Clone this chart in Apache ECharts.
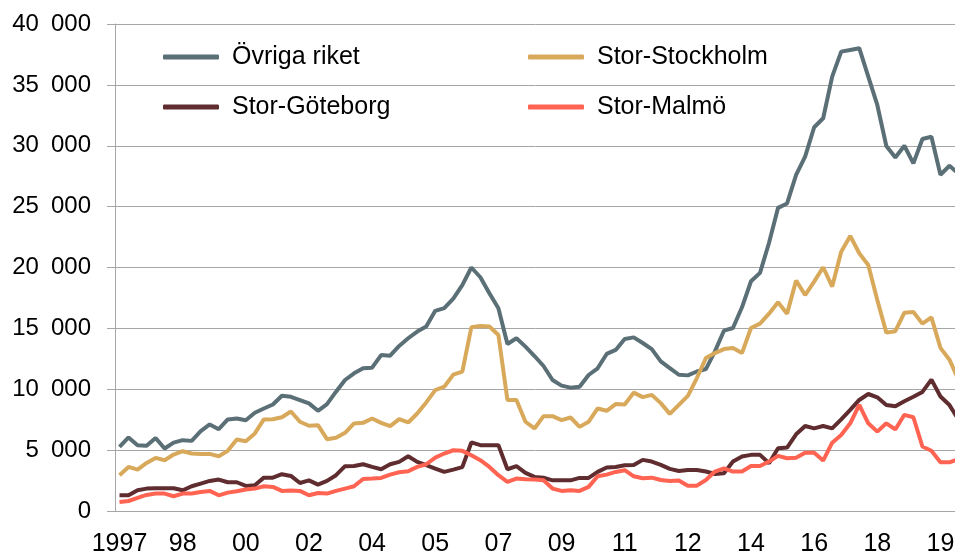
<!DOCTYPE html>
<html>
<head>
<meta charset="utf-8">
<script src="https://cdn.jsdelivr.net/npm/echarts@6/dist/echarts.min.js"></script>
<style>
  html, body { margin: 0; padding: 0; background: #fff; }
  #chart { width: 955px; height: 553px; }
</style>
</head>
<body>
<div id="chart"></div>
<script>
  // quarters 1997K1 .. 2020K2
  const years = [1997, 1998, 1999, 2000, 2001, 2002, 2003, 2004, 2005, 2006, 2007, 2008,
                 2009, 2010, 2011, 2012, 2013, 2014, 2015, 2016, 2017, 2018, 2019, 2020]
  const categories = []
  years.forEach(y => {
    for (let q = 1; q <= 4; q++) categories.push(y + 'K' + q)
  })
  categories.length = 94

  const ovrigaRiket = [
    5270, 6040, 5400, 5350, 6000, 5130, 5620, 5820, 5760, 6560,
    7110, 6720, 7520, 7600, 7460, 8070, 8420, 8750, 9470, 9380,
    9110, 8840, 8230, 8780, 9800, 10760, 11310, 11720, 11770, 12810,
    12760, 13560, 14190, 14740, 15150, 16440, 16660, 17450, 18550, 20000,
    19200, 17890, 16660, 13720, 14190, 13500, 12730, 11910, 10760, 10300,
    10130, 10210, 11170, 11720, 12900, 13230, 14130, 14260, 13800, 13300,
    12290, 11740, 11190, 11140, 11460, 11660, 13110, 14810, 15030, 16730,
    18870, 19560, 22030, 24900, 25260, 27600, 29110, 31520, 32260, 35680,
    37730, 37870, 38010, 35680, 33350, 29980, 29040, 30000, 28550, 30550,
    30740, 27620, 28360, 27700
  ]
  const storStockholm = [
    2940, 3620, 3400, 3950, 4360, 4170, 4640, 4910, 4720, 4690,
    4690, 4500, 4940, 5870, 5730, 6370, 7520, 7540, 7700, 8170,
    7330, 7000, 7050, 5900, 6010, 6420, 7190, 7240, 7600, 7240,
    6970, 7550, 7270, 8010, 8920, 9930, 10210, 11200, 11440, 15090,
    15200, 15150, 14460, 9110, 9110, 7330, 6780, 7790, 7790, 7460,
    7680, 6910, 7330, 8420, 8230, 8780, 8750, 9720, 9350, 9540,
    8860, 7980, 8720, 9460, 10920, 12560, 12970, 13300, 13380, 12970,
    15030, 15390, 16210, 17140, 16210, 18930, 17740, 18840, 20020, 18430,
    21300, 22590, 21170, 20210, 17330, 14650, 14770, 16290, 16340, 15390,
    15900, 13400, 12430, 10760
  ]
  const storGoteborg = [
    1290, 1290, 1700, 1840, 1870, 1870, 1870, 1700, 2030, 2250,
    2470, 2580, 2360, 2360, 2060, 2110, 2740, 2740, 3020, 2880,
    2300, 2520, 2170, 2470, 2940, 3680, 3700, 3840, 3620, 3430,
    3840, 4030, 4500, 4030, 3760, 3490, 3210, 3400, 3600, 5630,
    5410, 5410, 5410, 3430, 3680, 3130, 2800, 2740, 2520, 2520,
    2520, 2720, 2720, 3210, 3570, 3620, 3760, 3780, 4200, 4060,
    3790, 3460, 3290, 3370, 3370, 3240, 3040, 3100, 4060, 4470,
    4610, 4610, 3920, 5160, 5210, 6300, 6980, 6790, 6980, 6790,
    7530, 8300, 9120, 9610, 9340, 8710, 8600, 9020, 9380, 9780,
    10790, 9400, 8700, 7500
  ]
  const storMalmo = [
    740, 820, 1070, 1320, 1430, 1430, 1210, 1430, 1430, 1560,
    1650, 1290, 1510, 1620, 1760, 1840, 2030, 1980, 1650, 1680,
    1650, 1290, 1480, 1430, 1650, 1840, 2030, 2630, 2660, 2720,
    2990, 3180, 3270, 3620, 3840, 4390, 4720, 4990, 4940, 4580,
    4170, 3620, 2940, 2390, 2660, 2610, 2580, 2520, 1840, 1650,
    1700, 1650, 1980, 2850, 2990, 3210, 3350, 2850, 2690, 2740,
    2550, 2470, 2500, 2080, 2080, 2550, 3240, 3510, 3240, 3240,
    3700, 3700, 4060, 4530, 4330, 4380, 4790, 4790, 4140, 5610,
    6240, 7200, 8710, 7200, 6520, 7200, 6700, 7900, 7700, 5300,
    4950, 4000, 4000, 4260
  ]

  const font = 'Liberation Sans, Arial, sans-serif'
  const gridGray = '#a6a6a6'

  const chart = echarts.init(document.getElementById('chart'))

  let legendBase = {
    orient: 'vertical',
    top: 43,
    padding: 0,
    itemWidth: 56,
    itemHeight: 5,
    itemGap: 22,
    icon: 'roundRect',
    textStyle: {
      fontFamily: font, fontSize: 25, color: '#000',
      lineHeight: 28, padding: [0, 0, 0, 8]
    }
  }

  let option = {
    animation: false,
    color: ['#5b6f76', '#d9a95b', '#5f2d2f', '#ff6352'],
    legend: [
      Object.assign({}, legendBase, { left: 163, data: ['Övriga riket', 'Stor-Göteborg'] }),
      Object.assign({}, legendBase, { left: 528, data: ['Stor-Stockholm', 'Stor-Malmö'] })
    ],
    grid: {
      left: 115,
      top: 24,
      right: -8,
      bottom: 42,
      outerBoundsMode: 'none'
    },
    xAxis: {
      type: 'category',
      boundaryGap: true,
      data: categories,
      axisLine: { lineStyle: { color: gridGray, width: 1 } },
      axisTick: {
        interval: 0,
        inside: true,
        length: 5,
        lineStyle: { color: gridGray }
      },
      axisLabel: {
        interval: 6,
        margin: 21,
        fontFamily: font,
        fontSize: 25,
        color: '#000',
        formatter: (value, index) => index === 0 ? value.slice(0, 4) : value.slice(2, 4)
      },
      splitLine: { show: false }
    },
    yAxis: {
      type: 'value',
      min: 0,
      max: 40000,
      interval: 5000,
      axisLine: { show: true, lineStyle: { color: gridGray, width: 1 } },
      axisTick: { show: true, length: 8, lineStyle: { color: gridGray } },
      axisLabel: {
        margin: 24,
        fontFamily: font,
        fontSize: 24,
        color: '#000',
        // thousands separated by an en space
        formatter: (value) => String(value).replace(/\B(?=(\d{3})+(?!\d))/g, '\u2002')
      },
      splitLine: { lineStyle: { color: gridGray, width: 1 } }
    },
    series: []
  }

  const lines = {
    'Övriga riket': ovrigaRiket,
    'Stor-Stockholm': storStockholm,
    'Stor-Göteborg': storGoteborg,
    'Stor-Malmö': storMalmo
  }
  for (let key in lines) {
    option.series.push({
      name: key,
      type: 'line',
      showSymbol: false,
      symbol: 'none',
      lineStyle: { width: 4 },
      data: lines[key]
    })
  }

  chart.setOption(option)
</script>
</body>
</html>
